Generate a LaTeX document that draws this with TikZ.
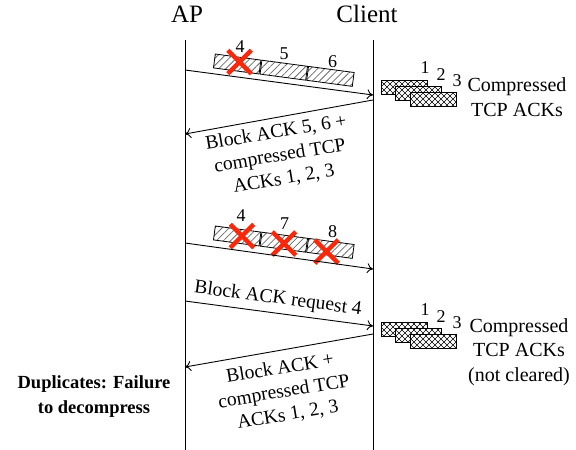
\documentclass[tikz,border=0pt]{standalone}
\usepackage{fontspec}
\setmainfont{Liberation Serif}
\usetikzlibrary{arrows.meta,shapes.misc,patterns,patterns.meta}
\pgfdeclarepatternformonly{diagcross}{\pgfqpoint{-1pt}{-1pt}}{\pgfqpoint{7pt}{7pt}}{\pgfqpoint{6pt}{6pt}}{%
  \pgfsetlinewidth{0.55pt}%
  \pgfpathmoveto{\pgfqpoint{0pt}{0pt}}\pgfpathlineto{\pgfqpoint{6pt}{6pt}}%
  \pgfpathmoveto{\pgfqpoint{0pt}{6pt}}\pgfpathlineto{\pgfqpoint{6pt}{0pt}}%
  \pgfusepath{stroke}}
\definecolor{xred}{RGB}{250,40,10}
\begin{document}
\begin{tikzpicture}[x=1pt,y=-1pt,
  life/.style={line width=0.9pt},
  msg/.style={line width=0.9pt,-{To[length=6pt,width=10pt]}},
  pkt/.style={draw,line width=0.8pt,minimum width=46pt,minimum height=14pt,inner sep=0,
    pattern={Lines[angle=45,distance=5pt,line width=0.8pt]},pattern color=gray!85!black,rotate=-7.6},
  ackbox/.style={draw,line width=0.8pt,minimum width=46pt,minimum height=14pt,inner sep=0,
    preaction={fill=white},pattern=diagcross},
  xmark/.style={cross out,draw=xred,line width=4.5pt,minimum size=19pt,inner sep=0},
  num/.style={font=\fontsize{18}{20}\selectfont,inner sep=0},
  lbl/.style={font=\fontsize{19.5}{23.5}\selectfont,align=center,inner sep=0},
  side/.style={font=\fontsize{20}{24.5}\selectfont,align=center,inner sep=0},
  ttl/.style={font=\fontsize{25}{28}\selectfont,inner sep=0},
]
\useasboundingbox (0,0) rectangle (576,450);

% titles
\node[ttl] (ap) at (187,14) {AP};
\node[ttl] (cl) at (367,14) {Client};

% lifelines
\coordinate (apT) at (185,40);
\coordinate (apB) at (185,450);
\coordinate (clT) at (373,40);
\coordinate (clB) at (373,450);
\draw[life] (apT) -- (apB);
\draw[life] (clT) -- (clB);

% message end points
\coordinate (a1) at (185,70);  \coordinate (c1) at (373,95);
\coordinate (c2) at (373,100); \coordinate (a2) at (185,134);
\coordinate (a3) at (185,243); \coordinate (c3) at (373,269);
\coordinate (a4) at (185,301); \coordinate (c4) at (373,326);
\coordinate (c5) at (373,334); \coordinate (a5) at (185,367);

% first burst
\node[pkt] (p4) at (237.2,64) {};
\node[pkt] (p5) at (283.8,70.2) {};
\node[pkt] (p6) at (330.4,76.4) {};
\node[num] (n4) at (240,47) {4};
\node[num] (n5) at (284,53.5) {5};
\node[num] (n6) at (332.5,61.5) {6};
\node[xmark] (x4) at (239.5,62) {};
\draw[msg] (a1) -- (c1);

% compressed ACKs 1
\node[ackbox] (k1) at (404,87) {};
\node[ackbox] (k2) at (418.5,93) {};
\node[ackbox] (k3) at (433,99) {};
\node[num] (m1) at (425,67.5) {1};
\node[num] (m2) at (441,75) {2};
\node[num] (m3) at (457,81) {3};
\node[side] (t1) at (517,97) {Compressed\\TCP ACKs};

% block ack 1
\draw[msg] (c2) -- (a2);
\node[lbl,rotate=9.5] (l1) at (280,156) {Block ACK 5, 6 +\\compressed TCP\\ACKs 1, 2, 3};

% second burst
\node[pkt] (q4) at (237.2,236) {};
\node[pkt] (q7) at (283.8,242.2) {};
\node[pkt] (q8) at (330.4,248.4) {};
\node[num] (r4) at (241,216) {4};
\node[num] (r7) at (284.5,224) {7};
\node[num] (r8) at (332.5,232) {8};
\node[xmark] (y4) at (242,236) {};
\node[xmark] (y7) at (284,243.5) {};
\node[xmark] (y8) at (326.5,251.5) {};
\draw[msg] (a3) -- (c3);

% BAR
\draw[msg] (a4) -- (c4);
\node[lbl,rotate=-7.5] (l2) at (278,299) {Block ACK request 4};

% compressed ACKs 2
\node[ackbox] (j1) at (404,329) {};
\node[ackbox] (j2) at (418.5,335) {};
\node[ackbox] (j3) at (433,341) {};
\node[num] (o1) at (425,309.5) {1};
\node[num] (o2) at (441,317) {2};
\node[num] (o3) at (457,323) {3};
\node[side] (t2) at (519,352) {Compressed\\TCP ACKs\\(not cleared)};

% block ack 2
\draw[msg] (c5) -- (a5);
\node[lbl,rotate=9.5] (l3) at (284,392) {Block ACK +\\compressed TCP\\ACKs 1, 2, 3};

% note
\node[font=\bfseries\fontsize{18.5}{25}\selectfont,align=center,inner sep=0] (dup) at (94,397) {Duplicates: Failure\\to decompress};
\end{tikzpicture}
\end{document}
